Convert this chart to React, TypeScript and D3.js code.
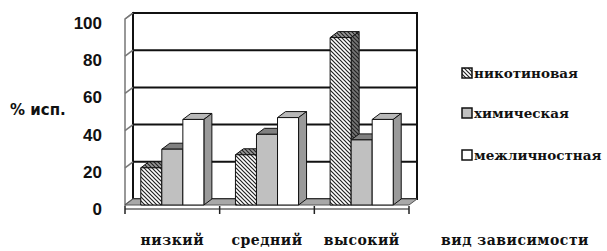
import React, { useEffect, useRef } from 'react';
import * as d3 from 'd3';

const categories = ['низкий', 'средний', 'высокий'];
const seriesNames = ['никотиновая', 'химическая', 'межличностная'];
const nicotine = [20, 27, 90];
const chemical = [30, 38, 35];
const interpersonal = [46, 47, 46];
const yTicks = [0, 20, 40, 60, 80, 100];
const yTitle = '% исп.';
const xTitle = 'вид зависимости';

const App = () => {
  const svgRef = useRef<SVGSVGElement>(null);

  useEffect(() => {
    const w = 607, h = 251;
    const svg = d3.select(svgRef.current)
      .attr('width', w)
      .attr('height', h)
      .style('position', 'absolute')
      .style('left', 0)
      .style('top', 0)
      .style('background', '#fff');
    svg.selectAll('*').remove();

    // depth of the 3d box
    const dx = 8, dy = -6;
    const left = 125, right = 409;

    const x = d3.scaleBand().domain(categories).range([left, right]).padding(0);
    const xs = d3.scaleBand().domain(seriesNames).range([0, x.bandwidth()]).paddingInner(0).paddingOuter(0.75);
    const y = d3.scaleLinear().domain([0, 100]).range([205, 19]);

    const defs = svg.append('defs');
    const mk = (id, bg) => {
      const p = defs.append('pattern')
        .attr('id', id)
        .attr('patternUnits', 'userSpaceOnUse')
        .attr('width', 4).attr('height', 4);
      p.append('rect').attr('width', 4).attr('height', 4).attr('fill', bg);
      p.append('path')
        .attr('d', 'M-1,-1L5,5M-1,3L1,5M3,-1L5,1')
        .attr('stroke', '#222').attr('stroke-width', 1.2);
    };
    mk('hatch', '#fff');
    mk('hatchTop', '#999');
    mk('hatchSide', '#777');

    // left wall
    svg.append('path')
      .attr('d', `M${left},${y(0)}L${left},${y(100)}L${left + dx},${y(100) + dy}L${left + dx},${y(0) + dy}Z`)
      .attr('fill', '#fff').attr('stroke', '#777').attr('stroke-width', 1.5);

    // back wall
    svg.append('rect')
      .attr('x', left + dx).attr('y', y(100) + dy)
      .attr('width', right - left).attr('height', y(0) - y(100))
      .attr('fill', '#fff').attr('stroke', '#111').attr('stroke-width', 2);

    svg.append('g').selectAll('line').data(yTicks.slice(1)).join('line')
      .attr('x1', left + dx).attr('x2', right + dx)
      .attr('y1', d => y(d) + dy).attr('y2', d => y(d) + dy)
      .attr('stroke', '#111').attr('stroke-width', 2);
    svg.append('g').selectAll('line').data(yTicks).join('line')
      .attr('x1', left).attr('x2', left + dx)
      .attr('y1', d => y(d)).attr('y2', d => y(d) + dy)
      .attr('stroke', '#777').attr('stroke-width', 1.5);

    // floor
    svg.append('path')
      .attr('d', `M${left},${y(0)}L${left + dx},${y(0) + dy}L${right + dx},${y(0) + dy}L${right},${y(0)}Z`)
      .attr('fill', '#a8a8a8').attr('stroke', '#555').attr('stroke-width', 1);

    // category axis
    const ax = svg.append('g');
    ax.append('line')
      .attr('x1', left).attr('x2', right)
      .attr('y1', 209).attr('y2', 209)
      .attr('stroke', '#666').attr('stroke-width', 1.5);
    ax.selectAll('line.tk').data([...categories.map(c => x(c)), right]).join('line')
      .attr('class', 'tk')
      .attr('x1', d => d).attr('x2', d => d)
      .attr('y1', 206).attr('y2', 214)
      .attr('stroke', '#222').attr('stroke-width', 1.5);

    const styles = [
      { front: 'url(#hatch)', top: 'url(#hatchTop)', side: 'url(#hatchSide)' },
      { front: '#c0c0c0', top: '#808080', side: '#8a8a8a' },
      { front: '#fff', top: '#b8b8b8', side: '#9a9a9a' },
    ];
    const series = [nicotine, chemical, interpersonal];

    const bars = svg.append('g');
    categories.forEach((c, ci) => {
      seriesNames.forEach((s, si) => {
        const v = series[si][ci];
        const x0 = x(c) + xs(s);
        const x1 = x0 + xs.bandwidth();
        const yt = y(v), yb = y(0);
        const st = styles[si];
        const g = bars.append('g').attr('stroke', '#111').attr('stroke-width', 1).attr('stroke-linejoin', 'round');
        g.append('path')
          .attr('d', `M${x0},${yt}L${x0 + dx},${yt + dy}L${x1 + dx},${yt + dy}L${x1},${yt}Z`)
          .attr('fill', st.top);
        g.append('path')
          .attr('d', `M${x1},${yt}L${x1 + dx},${yt + dy}L${x1 + dx},${yb + dy}L${x1},${yb}Z`)
          .attr('fill', st.side);
        g.append('rect')
          .attr('x', x0).attr('y', yt)
          .attr('width', x1 - x0).attr('height', yb - yt)
          .attr('fill', st.front);
      });
    });

    // y tick labels
    svg.append('g').selectAll('text').data(yTicks).join('text')
      .attr('x', 102).attr('y', d => y(d) + 10)
      .attr('text-anchor', 'end')
      .attr('font-family', '"Liberation Sans", Arial, sans-serif')
      .attr('font-weight', 'bold')
      .attr('font-size', 17)
      .attr('fill', '#111')
      .text(d => d);

    svg.append('text')
      .attr('x', 10).attr('y', 115)
      .attr('font-family', '"DejaVu Sans", sans-serif')
      .attr('font-weight', 'bold')
      .attr('font-size', 15)
      .attr('fill', '#111')
      .text(yTitle);

    const serif = '"DejaVu Serif", serif';

    // category labels
    svg.append('g').selectAll('text').data(categories).join('text')
      .attr('x', d => x(d) + x.bandwidth() / 2)
      .attr('y', 245)
      .attr('text-anchor', 'middle')
      .attr('font-family', serif)
      .attr('font-weight', 'bold')
      .attr('font-size', 14)
      .attr('letter-spacing', 0.5)
      .attr('fill', '#111')
      .text(d => d);

    svg.append('text')
      .attr('x', 515).attr('y', 245)
      .attr('text-anchor', 'middle')
      .attr('font-family', serif)
      .attr('font-weight', 'bold')
      .attr('font-size', 14)
      .attr('letter-spacing', 0.5)
      .attr('fill', '#111')
      .text(xTitle);

    // legend
    const legFills = ['url(#hatch)', '#c0c0c0', '#fff'];
    const legY = [73, 113, 155];
    const leg = svg.append('g');
    seriesNames.forEach((s, i) => {
      leg.append('rect')
        .attr('x', 462).attr('y', legY[i] - 5)
        .attr('width', 10).attr('height', 10)
        .attr('fill', legFills[i])
        .attr('stroke', '#111').attr('stroke-width', 1.5);
      leg.append('text')
        .attr('x', 474).attr('y', legY[i] + 5)
        .attr('font-family', serif)
        .attr('font-weight', 'bold')
        .attr('font-size', 13.5)
        .attr('fill', '#111')
        .text(s);
    });
  }, []);

  return (
    <div>
      <svg ref={svgRef}></svg>
    </div>
  );
};

export default App;
